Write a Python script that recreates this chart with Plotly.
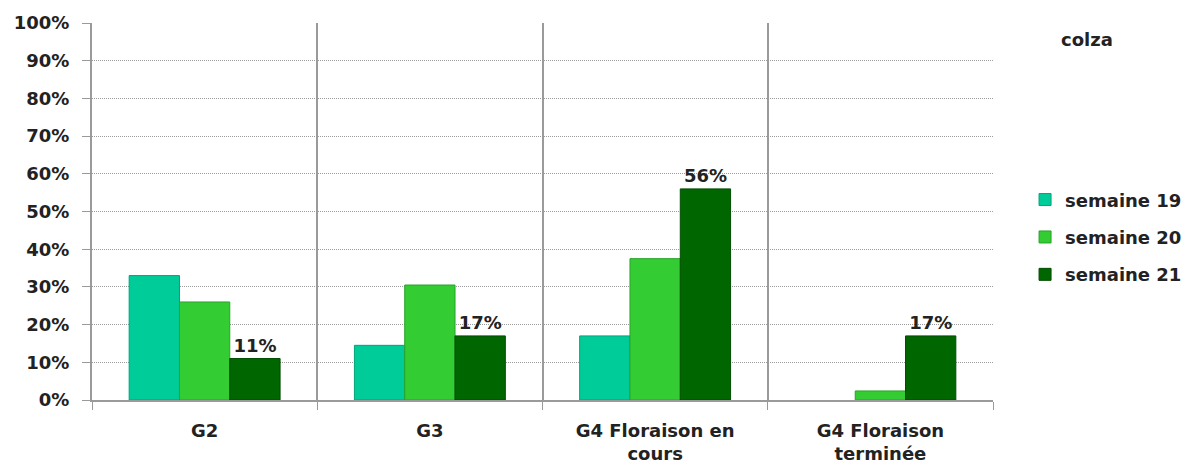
import plotly.graph_objects as go

categories = ["G2", "G3", "G4 Floraison en<br>cours", "G4 Floraison<br>terminée"]
series_names = ["semaine 19", "semaine 20", "semaine 21"]
semaine_19 = [0.33, 0.145, 0.17, 0.0]
semaine_20 = [0.26, 0.305, 0.375, 0.024]
semaine_21 = [0.11, 0.17, 0.56, 0.17]
labelled = [False, False, True]
colors = ["#00CC99", "#33CC33", "#006600"]
line_colors = ["#00A37A", "#29A329", "#004D00"]
tick_vals = [i / 10 for i in range(11)]

FONT = "DejaVu Sans"
FS = 18
TXT = "#222222"

fig = go.Figure()
for name, vals, col, lc, lab in zip(series_names, [semaine_19, semaine_20, semaine_21],
                                     colors, line_colors, labelled):
    fig.add_trace(go.Bar(
        x=categories, y=vals, name=name, legendgroup=name,
        marker=dict(color=col, line=dict(color=lc, width=[1 if v > 0 else 0 for v in vals])),
        text=[f"{v:.0%}" for v in vals] if lab else None,
        textposition="outside" if lab else None,
        textfont=dict(family=FONT, size=FS, color=TXT, weight="bold"),
        cliponaxis=False,
    ))

# the page body adds an 8px offset, so the figure is sized to fit the window
fig.update_layout(
    width=1184, height=455,
    margin=dict(l=84, r=199, t=15, b=63),
    paper_bgcolor="white", plot_bgcolor="white",
    barmode="group", bargap=0.33, bargroupgap=0,
    font=dict(family=FONT, size=FS, color=TXT),
    showlegend=True,
    legend=dict(x=0.859, y=0.619, xref="container", yref="container",
                xanchor="left", yanchor="top",
                font=dict(family=FONT, size=FS, color=TXT, weight="bold"),
                tracegroupgap=11, itemwidth=30, traceorder="grouped"),
    annotations=[dict(text="<b>colza</b>", x=1.104, y=0.955, xref="paper", yref="paper",
                      xanchor="center", yanchor="middle", showarrow=False,
                      font=dict(family=FONT, size=FS, color=TXT))],
)
fig.update_yaxes(range=[0, 1], tickvals=tick_vals, tickformat=".0%", automargin=False,
                 showgrid=True, gridcolor="#9a9a9a", griddash="1px,1px", gridwidth=1,
                 showline=True, linecolor="#9a9a9a", linewidth=2,
                 ticks="outside", ticklen=8, tickcolor="#9a9a9a",
                 tickfont=dict(family=FONT, size=FS, color=TXT, weight="bold"),
                 zeroline=False, ticklabelstandoff=9)
fig.update_xaxes(tickson="boundaries", automargin=False,
                 showgrid=True, gridcolor="#9a9a9a", gridwidth=1.5,
                 showline=True, linecolor="#9a9a9a", linewidth=2,
                 ticks="outside", ticklen=8, tickcolor="#9a9a9a",
                 tickfont=dict(family=FONT, size=FS, color=TXT, weight="bold"),
                 ticklabelstandoff=13)

fig.write_html("out.html")
